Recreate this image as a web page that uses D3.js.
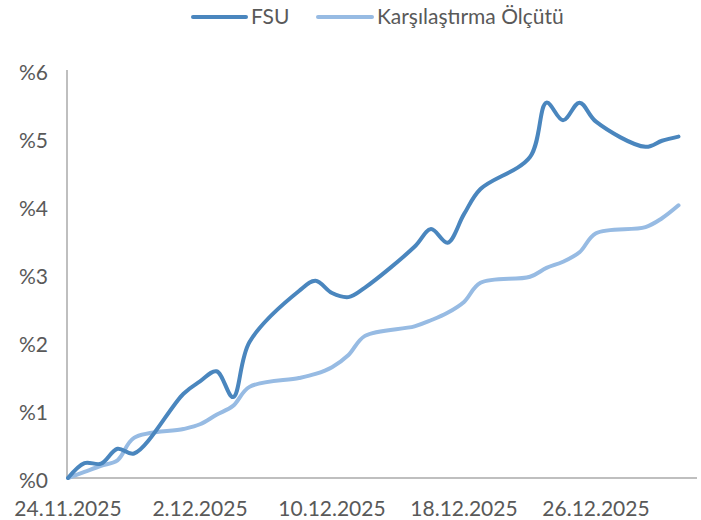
<!DOCTYPE html>
<html>
<head>
<meta charset="utf-8">
<script src="https://cdn.jsdelivr.net/npm/d3@7"></script>
<style>
  html, body { margin: 0; padding: 0; background: #ffffff; }
  svg { display: block; }
</style>
</head>
<body>
<script>
// ---- data ----
const dates = [
  "2025-11-24","2025-11-25","2025-11-26","2025-11-27","2025-11-28",
  "2025-12-01","2025-12-02","2025-12-03","2025-12-04","2025-12-05",
  "2025-12-08","2025-12-09","2025-12-10","2025-12-11","2025-12-12",
  "2025-12-15","2025-12-16","2025-12-17","2025-12-18","2025-12-19",
  "2025-12-22","2025-12-23","2025-12-24","2025-12-25","2025-12-26",
  "2025-12-29","2025-12-30","2025-12-31"
];
const fsu = [
  0.00, 0.22, 0.21, 0.43, 0.36,
  1.24, 1.42, 1.57, 1.19, 2.00,
  2.75, 2.90, 2.72, 2.66, 2.80,
  3.40, 3.66, 3.46, 3.88, 4.25,
  4.72, 5.52, 5.26, 5.52, 5.24,
  4.87, 4.96, 5.02
];
const benchmark = [
  0.00, 0.09, 0.18, 0.26, 0.59,
  0.72, 0.79, 0.93, 1.06, 1.34,
  1.47, 1.53, 1.63, 1.81, 2.09,
  2.23, 2.32, 2.43, 2.59, 2.87,
  2.96, 3.09, 3.18, 3.32, 3.60,
  3.69, 3.82, 4.01
];
const seriesNames = ["FSU", "Karşılaştırma Ölçütü"];
const yTicks = [0, 1, 2, 3, 4, 5, 6];
const xTickDates = ["2025-11-24","2025-12-02","2025-12-10","2025-12-18","2025-12-26"];

// ---- layout ----
const W = 701, H = 520;
const colors = ["#4a86be", "#97bbe3"];
const textColor = "#595959";
const axisColor = "#bfbfbf";
const font = "Lato, 'Open Sans', sans-serif";

const parse = d3.utcParse("%Y-%m-%d");
const fmt = d => `${d.getUTCDate()}.${d.getUTCMonth() + 1}.${d.getUTCFullYear()}`;

const x = d3.scaleUtc()
  .domain([parse("2025-11-24"), parse("2026-01-01")])
  .range([68, 68 + 38 * 16.5]);
const y = d3.scaleLinear().domain([0, 6]).range([478, 70]);

const svg = d3.select("body").append("svg")
  .attr("width", W).attr("height", H)
  .style("font-family", font);

// axes lines
svg.append("line")
  .attr("x1", 67).attr("x2", 67).attr("y1", y(6)).attr("y2", y(0))
  .attr("stroke", axisColor).attr("stroke-width", 2);
svg.append("line")
  .attr("x1", 67).attr("x2", 697).attr("y1", y(0)).attr("y2", y(0))
  .attr("stroke", axisColor).attr("stroke-width", 2);

// y tick labels
svg.append("g").selectAll("text").data(yTicks).join("text")
  .attr("x", 48).attr("y", d => y(d) + 2.5)
  .attr("dy", "0.35em")
  .attr("text-anchor", "end")
  .attr("fill", textColor)
  .style("font-size", "21px")
  .text(d => "%" + d);

// x tick labels
svg.append("g").selectAll("text").data(xTickDates.map(parse)).join("text")
  .attr("x", d => x(d)).attr("y", 509)
  .attr("dy", "0.35em")
  .attr("text-anchor", "middle")
  .attr("fill", textColor)
  .style("font-size", "21px")
  .text(fmt);

// lines
const pts = (vals) => dates.map((d, i) => [x(parse(d)), y(vals[i])]);
const line = d3.line().curve(d3.curveCatmullRom.alpha(0.5));

svg.append("path")
  .attr("d", line(pts(benchmark)))
  .attr("fill", "none").attr("stroke", colors[1])
  .attr("stroke-width", 4).attr("stroke-linejoin", "round").attr("stroke-linecap", "round");
svg.append("path")
  .attr("d", line(pts(fsu)))
  .attr("fill", "none").attr("stroke", colors[0])
  .attr("stroke-width", 4).attr("stroke-linejoin", "round").attr("stroke-linecap", "round");

// legend
const legendItems = [
  { name: seriesNames[0], color: colors[0], x1: 193, x2: 246, tx: 251 },
  { name: seriesNames[1], color: colors[1], x1: 318, x2: 372, tx: 377 }
];
const lg = svg.append("g");
legendItems.forEach(it => {
  lg.append("line")
    .attr("x1", it.x1).attr("x2", it.x2).attr("y1", 17).attr("y2", 17)
    .attr("stroke", it.color).attr("stroke-width", 4).attr("stroke-linecap", "round");
  lg.append("text")
    .attr("x", it.tx).attr("y", 17).attr("dy", "0.35em")
    .attr("fill", textColor).style("font-size", "21px")
    .text(it.name);
});
</script>
</body>
</html>
